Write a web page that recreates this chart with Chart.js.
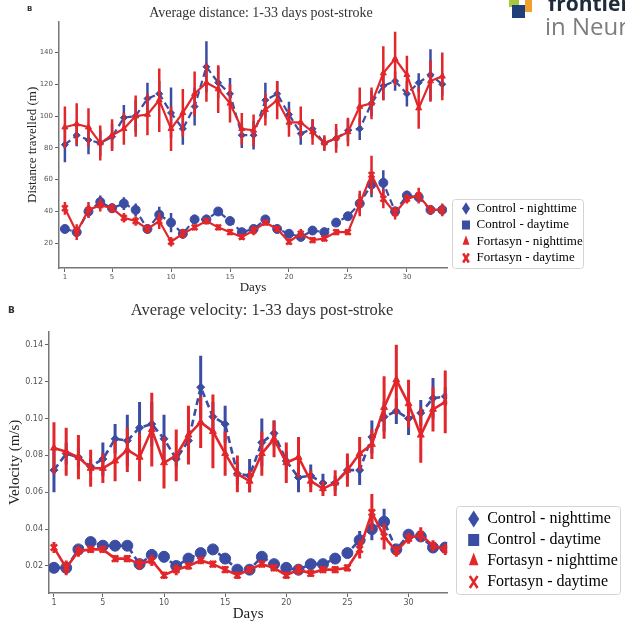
<!DOCTYPE html>
<html>
<head>
<meta charset="utf-8">
<script src="https://cdn.jsdelivr.net/npm/chart.js@4.4.1/dist/chart.umd.min.js"></script>
<style>
  body { margin: 0; width: 625px; height: 623px; overflow: hidden; position: relative; background: #fff; }
  .panel { position: absolute; left: 0; width: 625px; }
  .tag { position: absolute; font-family: 'DejaVu Sans', sans-serif; font-weight: bold; color: #333; }
  .logo { position: absolute; white-space: nowrap; font-family: 'Open Sans', sans-serif; }
</style>
</head>
<body>
<div class="panel" style="top:0;height:298px"><canvas id="distChart" width="625" height="298"></canvas></div>
<div class="panel" style="top:298px;height:325px"><canvas id="velChart" width="625" height="325"></canvas></div>

<div class="tag" style="left:27px;top:5px;font-size:7px">B</div>
<div class="tag" style="left:8px;top:305px;font-size:9px">B</div>

<!-- journal logo, cut by the page edge -->
<div style="position:absolute;left:509px;top:-2px;width:10px;height:9px;background:#a6c83a"></div>
<div style="position:absolute;left:512px;top:5px;width:13px;height:13px;background:#1f3f7a"></div>
<div style="position:absolute;left:525px;top:0px;width:7px;height:12px;background:#f0a030"></div>
<div class="logo" style="left:548px;top:-11px;font-size:21px;font-weight:bold;color:#1d2b3a">frontiers</div>
<div class="logo" style="left:545px;top:9px;font-size:24px;color:#7d7d7d">in Neurology</div>

<script>
const days = [1, 2, 3, 4, 5, 6, 7, 8, 9, 10, 11, 12, 13, 14, 15, 16, 17, 18, 19, 20, 21, 22, 23, 24, 25, 26, 27, 28, 29, 30, 31, 32, 33];
const xTicks = [1, 5, 10, 15, 20, 25, 30];
const distTicks = [20, 40, 60, 80, 100, 120, 140];
const velTicks = [0.02, 0.04, 0.06, 0.08, 0.10, 0.12, 0.14];
const seriesNames = ['Control - nighttime', 'Control - daytime', 'Fortasyn - nighttime', 'Fortasyn - daytime'];

// distance travelled (m), mean and error per day
const distCtrlNight = [82, 88, 85, 83, 87, 99, 100, 111, 114, 102, 92, 106, 131, 121, 114, 88, 88, 110, 114, 101, 89, 92, 83, 86, 91, 92, 108, 119, 122, 114, 121, 126, 120];
const distCtrlNightErr = [11, 7, 9, 8, 8, 8, 10, 10, 8, 16, 10, 12, 16, 10, 10, 8, 9, 11, 8, 8, 7, 6, 4, 6, 7, 7, 8, 9, 6, 8, 6, 16, 7];
const distCtrlDay = [29, 27, 40, 46, 42, 45, 41, 29, 38, 33, 26, 35, 35, 40, 34, 27, 29, 35, 29, 26, 24, 28, 27, 33, 37, 45, 57, 58, 40, 50, 49, 41, 41];
const distCtrlDayErr = [2, 3, 4, 4, 3, 4, 4, 3, 5, 6, 3, 3, 3, 2, 2, 2, 2, 2, 2, 2, 2, 2, 2, 2, 2, 6, 8, 8, 3, 3, 2, 3, 3];
const distFortNight = [93, 95, 93, 83, 88, 92, 100, 101, 110, 92, 102, 114, 121, 117, 108, 92, 91, 104, 110, 96, 96, 90, 83, 86, 90, 106, 108, 127, 136, 126, 105, 122, 125];
const distFortNightErr = [13, 13, 12, 11, 10, 10, 13, 13, 20, 14, 15, 14, 12, 15, 12, 10, 10, 10, 12, 9, 10, 8, 5, 9, 9, 12, 10, 17, 17, 12, 13, 13, 15];
const distFortDay = [42, 27, 41, 44, 42, 36, 34, 29, 34, 21, 26, 30, 34, 30, 27, 24, 28, 33, 29, 21, 26, 22, 23, 27, 27, 45, 63, 48, 39, 48, 50, 41, 41];
const distFortDayErr = [4, 5, 5, 4, 3, 3, 3, 3, 5, 3, 3, 2, 2, 2, 2, 2, 3, 2, 2, 2, 3, 2, 2, 2, 2, 8, 12, 6, 4, 3, 5, 3, 4];

// velocity (m/s), mean and error per day
const velCtrlNight = [0.072, 0.081, 0.079, 0.074, 0.078, 0.089, 0.088, 0.095, 0.097, 0.089, 0.078, 0.088, 0.117, 0.101, 0.097, 0.070, 0.069, 0.087, 0.092, 0.077, 0.068, 0.069, 0.065, 0.065, 0.072, 0.072, 0.090, 0.101, 0.104, 0.100, 0.103, 0.111, 0.112];
const velCtrlNightErr = [0.012, 0.006, 0.005, 0.004, 0.009, 0.008, 0.014, 0.014, 0.012, 0.013, 0.004, 0.006, 0.017, 0.008, 0.010, 0.006, 0.009, 0.013, 0.007, 0.005, 0.008, 0.006, 0.005, 0.004, 0.005, 0.008, 0.009, 0.008, 0.007, 0.009, 0.007, 0.011, 0.005];
const velCtrlDay = [0.019, 0.019, 0.029, 0.033, 0.031, 0.031, 0.031, 0.021, 0.026, 0.025, 0.020, 0.024, 0.027, 0.029, 0.024, 0.018, 0.018, 0.025, 0.021, 0.019, 0.018, 0.021, 0.021, 0.024, 0.027, 0.034, 0.040, 0.044, 0.029, 0.037, 0.036, 0.030, 0.030];
const velCtrlDayErr = [0.001, 0.002, 0.002, 0.002, 0.002, 0.002, 0.002, 0.002, 0.003, 0.003, 0.002, 0.002, 0.002, 0.002, 0.002, 0.002, 0.002, 0.002, 0.002, 0.002, 0.002, 0.002, 0.002, 0.002, 0.002, 0.005, 0.006, 0.007, 0.002, 0.002, 0.002, 0.002, 0.002];
const velFortNight = [0.084, 0.082, 0.079, 0.073, 0.073, 0.077, 0.083, 0.079, 0.094, 0.076, 0.080, 0.091, 0.098, 0.093, 0.081, 0.070, 0.066, 0.081, 0.089, 0.076, 0.079, 0.066, 0.062, 0.065, 0.072, 0.081, 0.086, 0.106, 0.121, 0.108, 0.091, 0.105, 0.109];
const velFortNightErr = [0.014, 0.013, 0.012, 0.010, 0.008, 0.011, 0.012, 0.013, 0.020, 0.014, 0.014, 0.016, 0.014, 0.020, 0.012, 0.010, 0.006, 0.012, 0.010, 0.011, 0.011, 0.006, 0.004, 0.007, 0.009, 0.009, 0.008, 0.017, 0.019, 0.013, 0.015, 0.012, 0.017];
const velFortDay = [0.030, 0.019, 0.028, 0.029, 0.029, 0.024, 0.024, 0.021, 0.023, 0.015, 0.018, 0.020, 0.023, 0.021, 0.018, 0.015, 0.018, 0.021, 0.019, 0.015, 0.018, 0.016, 0.018, 0.018, 0.019, 0.029, 0.049, 0.036, 0.028, 0.035, 0.037, 0.031, 0.029];
const velFortDayErr = [0.003, 0.004, 0.003, 0.002, 0.002, 0.002, 0.002, 0.003, 0.003, 0.002, 0.003, 0.002, 0.002, 0.002, 0.002, 0.002, 0.002, 0.002, 0.002, 0.002, 0.003, 0.002, 0.002, 0.002, 0.002, 0.005, 0.010, 0.007, 0.003, 0.003, 0.004, 0.003, 0.003];

const BLUE = '#3b4da2';
const RED = '#e2262a';
const legendStyles = ['rectRot', 'rect', 'triangle', 'crossRot'];

Chart.defaults.font.family = "'Liberation Serif', serif";
Chart.defaults.animation = false;

// vertical error bars, drawn under each line
const errorBars = {
  id: 'errorBars',
  beforeDatasetDraw(chart, args) {
    const ds = chart.data.datasets[args.index];
    if (!ds.errors) return;
    const { x, y } = chart.scales;
    const ctx = chart.ctx;
    ctx.save();
    ctx.strokeStyle = ds.borderColor;
    ctx.lineWidth = ds.errorWidth;
    ctx.beginPath();
    ds.data.forEach((p, i) => {
      const px = x.getPixelForValue(p.x);
      ctx.moveTo(px, y.getPixelForValue(p.y - ds.errors[i]));
      ctx.lineTo(px, y.getPixelForValue(p.y + ds.errors[i]));
    });
    ctx.stroke();
    ctx.restore();
  }
};

// nudges title and legend, then frames the legend entries
const legendFrame = {
  id: 'legendFrame',
  afterLayout(chart, args, opts) {
    const lg = chart.legend;
    lg.left += opts.shiftX;
    lg.right += opts.shiftX + 12; // room so the longest label is not clipped
    lg.top += opts.shiftY; lg.bottom += opts.shiftY;
    const tb = chart.titleBlock;
    tb.left += opts.titleShift; tb.right += opts.titleShift;
  },
  afterDraw(chart, args, opts) {
    const boxes = chart.legend && chart.legend.legendHitBoxes;
    if (!boxes || !boxes.length) return;
    const ctx = chart.ctx;
    const g = opts.gap;
    const left = Math.min(...boxes.map(b => b.left)) - g[0];
    const right = Math.max(...boxes.map(b => b.left + b.width)) + g[1];
    const top = boxes[0].top - g[2];
    const last = boxes[boxes.length - 1];
    const bottom = last.top + last.height + g[3];
    ctx.save();
    ctx.strokeStyle = '#d4d4d4';
    ctx.lineWidth = 1;
    ctx.beginPath();
    ctx.roundRect(Math.round(left) + 0.5, Math.round(top) + 0.5, Math.round(right - left), Math.round(bottom - top), 3);
    ctx.stroke();
    ctx.restore();
  }
};

function series(label, values, errors, color, opts) {
  return {
    label: label,
    data: days.map((d, i) => ({ x: d, y: values[i] })),
    errors: errors,
    borderColor: color,
    backgroundColor: color,
    borderWidth: opts.lineWidth,
    borderDash: opts.dashed ? [7, 4] : [],
    pointStyle: opts.style,
    pointRadius: opts.radius,
    pointBackgroundColor: color,
    pointBorderColor: color,
    pointBorderWidth: opts.style === 'crossRot' ? 2.5 : 1,
    errorWidth: opts.errorWidth,
    order: opts.order,
    fill: false,
    tension: 0
  };
}

function buildChart(id, p) {
  const chart = new Chart(document.getElementById(id), {
    type: 'line',
    data: { datasets: p.datasets },
    options: {
      responsive: false,
      layout: { padding: { left: 0, right: 40, top: 0, bottom: 0 } },
      plugins: {
        title: {
          display: true,
          text: p.title,
          fullSize: false,
          color: '#333',
          font: { size: p.titleSize, weight: 'normal' },
          padding: p.titlePadding
        },
        legend: {
          position: 'right',
          align: 'end',
          fullSize: false,
          labels: {
            usePointStyle: true,
            pointStyleWidth: p.legendMarkW,
            boxHeight: p.legendMarkH,
            padding: p.legendPadding,
            color: '#222',
            font: { size: p.legendSize },
            generateLabels: c => c.data.datasets.map((ds, i) => ({
              text: ds.label,
              fillStyle: ds.borderColor,
              strokeStyle: ds.borderColor,
              lineWidth: legendStyles[i] === 'crossRot' ? 2.5 : 0,
              pointStyle: legendStyles[i],
              datasetIndex: i,
              hidden: false
            }))
          }
        },
        legendFrame: p.frame,
        tooltip: { enabled: false }
      },
      scales: {
        x: {
          type: 'linear',
          min: p.xMin,
          max: p.xMax,
          afterBuildTicks: s => { s.ticks = xTicks.map(v => ({ value: v })); },
          afterFit: s => { s.height = 30; },
          grid: { drawOnChartArea: false, tickLength: 4, color: '#666' },
          border: { color: '#777', width: 1.5 },
          ticks: { color: '#555', padding: 1, maxRotation: 0, font: { family: "'DejaVu Sans', sans-serif", size: p.tickSize } },
          title: { display: true, text: 'Days', color: '#222', font: { size: p.axisTitleSize }, padding: { top: 0, bottom: p.xTitlePad } }
        },
        y: {
          min: p.yMin,
          max: p.yMax,
          afterBuildTicks: s => { s.ticks = p.yTicks.map(v => ({ value: v })); },
          afterFit: s => { s.width = p.yWidth; },
          grid: { drawOnChartArea: false, tickLength: 4, color: '#666' },
          border: { color: '#777', width: 1.5 },
          ticks: { color: '#555', padding: 2, font: { family: "'DejaVu Sans', sans-serif", size: p.tickSize }, callback: p.tickFormat },
          title: { display: true, text: p.yTitle, color: '#222', font: { size: p.axisTitleSize }, padding: { top: p.yTitlePad, bottom: 0 } }
        }
      }
    },
    plugins: [errorBars, legendFrame]
  });
  // widen the right padding so the plot ends where the original does
  chart.options.layout.padding.right += chart.chartArea.right - p.plotRight;
  chart.update();
  return chart;
}

const distStyle = { lineWidth: 2.2, errorWidth: 2.5 };
buildChart('distChart', {
  title: 'Average distance: 1-33 days post-stroke',
  titleSize: 14,
  titlePadding: { top: 5, bottom: 0 },
  yTitle: 'Distance travelled (m)',
  yTitlePad: 25,
  yWidth: 59,
  plotRight: 447,
  xMin: 0.5, xMax: 33.4,
  yMin: 4.45, yMax: 159.3,
  yTicks: distTicks,
  tickFormat: v => v,
  tickSize: 7,
  axisTitleSize: 13,
  xTitlePad: 3,
  legendSize: 13,
  legendMarkW: 8,
  legendMarkH: 9,
  legendPadding: 3.5,
  frame: { shiftX: 11.5, shiftY: 0, titleShift: 8, gap: [10, 0, 3, 3.5] },
  datasets: [
    series(seriesNames[0], distCtrlNight, distCtrlNightErr, BLUE, Object.assign({ dashed: true, style: 'rectRot', radius: 3.5, order: 3 }, distStyle)),
    series(seriesNames[1], distCtrlDay, distCtrlDayErr, BLUE, Object.assign({ dashed: true, style: 'circle', radius: 4.5, order: 4 }, distStyle)),
    series(seriesNames[2], distFortNight, distFortNightErr, RED, Object.assign({ dashed: false, style: 'triangle', radius: 3.5, order: 1 }, distStyle)),
    series(seriesNames[3], distFortDay, distFortDayErr, RED, Object.assign({ dashed: false, style: 'crossRot', radius: 4, order: 2 }, distStyle))
  ]
});

const velStyle = { lineWidth: 2.6, errorWidth: 3 };
buildChart('velChart', {
  title: 'Average velocity: 1-33 days post-stroke',
  titleSize: 16.5,
  titlePadding: { top: 3, bottom: 11 },
  yTitle: 'Velocity (m/s)',
  yTitlePad: 6,
  yWidth: 49,
  plotRight: 450,
  xMin: 0.594, xMax: 33.16,
  yMin: 0.00534, yMax: 0.14706,
  yTicks: velTicks,
  tickFormat: v => v.toFixed(2),
  tickSize: 8,
  axisTitleSize: 15,
  xTitlePad: 0,
  legendSize: 16,
  legendMarkW: 11,
  legendMarkH: 12,
  legendPadding: 5,
  frame: { shiftX: 16, shiftY: 2, titleShift: 14, gap: [12, 2, 5, 4] },
  datasets: [
    series(seriesNames[0], velCtrlNight, velCtrlNightErr, BLUE, Object.assign({ dashed: true, style: 'rectRot', radius: 4, order: 3 }, velStyle)),
    series(seriesNames[1], velCtrlDay, velCtrlDayErr, BLUE, Object.assign({ dashed: true, style: 'circle', radius: 5.5, order: 4 }, velStyle)),
    series(seriesNames[2], velFortNight, velFortNightErr, RED, Object.assign({ dashed: false, style: 'triangle', radius: 4, order: 1 }, velStyle)),
    series(seriesNames[3], velFortDay, velFortDayErr, RED, Object.assign({ dashed: false, style: 'crossRot', radius: 4.5, order: 2 }, velStyle))
  ]
});
</script>
</body>
</html>
